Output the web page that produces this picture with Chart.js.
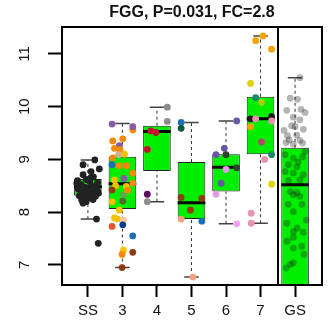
<!DOCTYPE html>
<html>
<head>
<meta charset="utf-8">
<script src="https://cdn.jsdelivr.net/npm/chart.js@4.4.1/dist/chart.umd.min.js"></script>
<style>
  html, body { margin: 0; padding: 0; background: #fff; }
  #wrap { width: 331px; height: 325px; }
</style>
</head>
<body>
<div id="wrap"><canvas id="chart" width="331" height="325"></canvas></div>
<script>
// ── Data ──
const groups = ['SS', '3', '4', '5', '6', '7', 'GS'];
const yTicks = [7, 8, 9, 10, 11];
const panelSplit = 6.51; // divider between the stage groups and GS

// box stats per group
const whiskLo = [7.87, 6.95, 8.20, 6.77, 7.78, 7.79, 4.60];
const q1      = [8.31, 8.06, 8.78, 7.87, 8.39, 9.10, 6.35];
const median  = [8.48, 8.54, 9.53, 8.18, 8.85, 9.77, 8.52];
const q3      = [8.63, 9.05, 9.64, 8.95, 9.10, 10.19, 9.22];
const whiskHi = [8.99, 9.68, 9.99, 9.70, 9.73, 11.34, 10.55];

// jittered samples: values + horizontal jitter (in group units)
const ssVals = [8.90, 8.99, 8.77, 8.82, 8.71, 8.67, 8.62, 8.60, 8.58, 8.56, 8.52, 8.50, 8.47, 8.45, 8.44,
  8.42, 8.40, 8.38, 8.36, 8.35, 8.33, 8.31, 8.30, 8.28, 8.27, 8.23, 8.20, 8.17, 8.24, 8.48, 8.55, 8.65, 8.40, 7.87, 7.41];
const ssJit = [-0.14, 0.20, 0.09, 0.33, -0.14, 0.16, -0.05, -0.30, 0.05, 0.28, -0.20, 0.12, -0.08, 0.25, -0.28,
  0.00, 0.18, -0.17, 0.30, -0.02, 0.10, -0.25, 0.22, -0.12, 0.05, -0.18, -0.05, -0.14, 0.15, 0.24, -0.32, 0.08, 0.28, 0.25, 0.30];

const g3Vals = [9.67, 9.56, 9.62, 9.39, 9.35, 9.26, 9.21, 9.18, 9.09, 9.10, 9.03, 8.90, 8.88, 8.88, 8.64, 8.74, 8.61, 8.55,
  8.49, 8.50, 8.42, 8.20, 8.21, 8.33, 8.42, 8.04, 7.89, 7.87, 7.85, 7.73, 7.76, 7.55, 7.28, 7.20, 7.24, 6.95];
const g3Jit = [-0.30, 0.30, 0.30, 0.01, -0.28, -0.09, -0.23, -0.07, -0.11, 0.06, -0.28, -0.30, -0.09, 0.12, 0.04, 0.30, -0.23, 0.30,
  0.11, -0.20, -0.30, -0.30, 0.01, 0.03, 0.15, -0.09, -0.23, -0.14, 0.03, -0.30, 0.01, 0.30, 0.03, -0.01, 0.30, -0.01];

const g4Vals = [9.99, 9.72, 9.54, 9.51, 9.19, 8.34, 8.20];
const g4Jit  = [0.30, 0.30, -0.18, -0.03, -0.28, -0.28, -0.28];

const g5Vals = [9.70, 9.59, 8.28, 8.26, 8.04, 7.87, 7.83, 6.77];
const g5Jit  = [-0.30, -0.30, -0.30, 0.30, -0.03, -0.30, 0.30, 0.04];

const g6Vals = [9.73, 9.21, 9.09, 9.09, 8.84, 8.81, 8.55, 8.34, 7.78];
const g6Jit  = [0.31, -0.05, -0.29, 0.00, 0.31, 0.00, -0.14, -0.29, 0.31];

const g7Vals = [11.34, 11.25, 11.09, 10.44, 10.17, 10.08, 9.77, 9.77, 9.81, 9.73, 9.62, 9.33, 9.09, 9.00, 8.53, 7.98, 7.79];
const g7Jit  = [0.07, -0.14, 0.32, -0.29, -0.14, 0.03, -0.29, -0.14, 0.32, 0.32, -0.29, 0.03, 0.32, 0.12, 0.32, -0.27, -0.27];

const gsVals = [10.55, 10.16, 10.14, 9.93, 9.95, 9.89, 9.80, 9.75, 9.64, 9.57, 9.62, 9.45, 9.46, 9.37, 9.36, 9.32, 9.29, 9.31,
  9.09, 9.02, 9.05, 8.90, 8.86, 8.77, 8.74, 8.71, 8.60, 8.61, 8.39, 8.37, 8.33, 8.30, 8.01, 7.79, 7.63, 7.62, 7.52, 7.32,
  7.35, 7.01, 6.94, 7.04, 9.15, 8.95, 9.55, 7.85, 8.15, 8.15, 7.70, 7.20, 7.45];
const gsJit = [0.14, -0.14, 0.07, -0.24, 0.17, 0.29, -0.05, 0.14, -0.10, 0.24, 0.00, -0.22, 0.05, -0.17, 0.14, -0.26, -0.05, 0.22,
  -0.29, -0.05, 0.22, -0.19, 0.05, -0.29, -0.05, 0.24, -0.19, 0.14, -0.14, 0.05, -0.05, 0.14, -0.05, -0.24, -0.05, 0.24, -0.05, -0.05,
  0.19, -0.14, -0.26, -0.05, 0.29, 0.09, -0.32, 0.32, 0.20, -0.20, 0.06, 0.26, -0.23];

// ── Colours ──
const C = {
  orange: '#F58A07', gold: '#F2C200', purple: '#8B5AA5', blue: '#1F6FB5', tan: '#C9B38B', brown: '#8E3B10',
  olive: '#4F6B2A', lgreen: '#5FA84A', peach: '#F6C7A3', ored: '#E0562A', navy: '#0C3E8E',
  gray: '#8C8C8C', crimson: '#C3122F', dpurple: '#5A0B5E', dgreen: '#0C5B39', salmon: '#F6A07E',
  slate: '#6957A6', dkgreen: '#2F432F', orchid: '#E49BE6', violet: '#F0A2F2',
  amber: '#F5A300', yellow: '#DDD300', teal: '#188A68', ygreen: '#A6CF12', black: '#1A1A1A', pink: '#E892AE', rose: '#B04B6B'
};
const g3Cols = [C.purple, C.orange, C.purple, C.orange, C.orange, C.purple, C.orange, C.orange, C.tan, C.gold, C.orange, C.blue,
  C.orange, C.orange, C.purple, C.orange, C.gold, C.orange, C.gold, C.gold, C.brown, C.gold, C.olive, C.lgreen, C.orange,
  C.gold, C.gold, C.gold, C.peach, C.ored, C.navy, C.blue, C.gold, C.orange, C.brown, C.brown];
const g4Cols = [C.gray, C.gray, C.crimson, C.crimson, C.crimson, C.dpurple, C.gray];
const g5Cols = [C.blue, C.dgreen, C.brown, C.brown, C.brown, C.salmon, C.blue, C.salmon];
const g6Cols = [C.slate, C.slate, C.slate, C.dkgreen, C.dkgreen, C.orchid, C.slate, C.orchid, C.violet];
const g7Cols = [C.amber, C.amber, C.amber, C.yellow, C.teal, C.ygreen, C.black, C.pink, C.black, C.pink, C.amber, C.rose,
  C.teal, C.pink, C.yellow, C.pink, C.pink];

const BOX_FILL = '#00EE00';
const FONT = '"Liberation Sans", Arial, sans-serif';

// ── Helpers ──
const pts = (g, vals, jit) => vals.map((v, i) => ({ x: g + jit[i], y: v }));

function segments(fn) {
  const out = [];
  groups.forEach((_, i) => { out.push(...fn(i + 1, i)); out.push({ x: i + 1, y: null }); });
  return out;
}

function pointSet(data, colors, order) {
  return {
    type: 'scatter', data, order,
    backgroundColor: colors, borderWidth: 0,
    pointRadius: 3.4, pointHoverRadius: 3.4
  };
}

// ── Plugins: frame, panel divider, y labels ──
const framePlugin = {
  id: 'frame',
  afterDraw(chart) {
    const { ctx, chartArea: a, scales } = chart;
    ctx.save();
    ctx.strokeStyle = '#000';
    ctx.lineWidth = 2;
    ctx.strokeRect(a.left, a.top, a.right - a.left, a.bottom - a.top);
    const sx = Math.round(scales.x.getPixelForValue(panelSplit));
    ctx.beginPath();
    ctx.moveTo(sx, a.top);
    ctx.lineTo(sx, a.bottom);
    ctx.stroke();

    // rotated y tick labels (R style)
    ctx.fillStyle = '#111';
    ctx.font = '15px ' + FONT;
    ctx.textAlign = 'center';
    ctx.textBaseline = 'middle';
    yTicks.forEach(t => {
      const y = scales.y.getPixelForValue(t);
      ctx.save();
      ctx.translate(25, y);
      ctx.rotate(-Math.PI / 2);
      ctx.fillText(String(t), 0, 0);
      ctx.restore();
    });
    ctx.restore();
  }
};

// ── Chart ──
new Chart(document.getElementById('chart'), {
  type: 'scatter',
  data: {
    datasets: [
      {
        type: 'line', order: 6, // dashed whiskers
        data: segments((g, i) => [{ x: g, y: whiskLo[i] }, { x: g, y: q1[i] }, { x: g, y: null }, { x: g, y: q3[i] }, { x: g, y: whiskHi[i] }]),
        borderColor: '#333', borderWidth: 1, borderDash: [3, 3], pointRadius: 0, spanGaps: false
      },
      {
        type: 'line', order: 6, // whisker caps
        data: segments((g, i) => [{ x: g - 0.21, y: whiskLo[i] }, { x: g + 0.21, y: whiskLo[i] }, { x: g, y: null },
                                  { x: g - 0.21, y: whiskHi[i] }, { x: g + 0.21, y: whiskHi[i] }]),
        borderColor: '#444', borderWidth: 1.5, pointRadius: 0, spanGaps: false
      },
      {
        type: 'bar', order: 5,
        data: groups.map((_, i) => ({ x: i + 1, y: [q1[i], q3[i]] })),
        backgroundColor: BOX_FILL, borderColor: '#222', borderWidth: 1, borderSkipped: false,
        barPercentage: 0.8, categoryPercentage: 1.0
      },
      {
        type: 'line', order: 4, // medians
        data: segments((g, i) => [{ x: g - 0.4, y: median[i] }, { x: g + 0.4, y: median[i] }]),
        borderColor: '#000', borderWidth: 3, pointRadius: 0, spanGaps: false
      },
      pointSet(pts(1, ssVals, ssJit), '#222', 2),
      pointSet(pts(2, g3Vals, g3Jit), g3Cols, 2),
      pointSet(pts(3, g4Vals, g4Jit), g4Cols, 2),
      pointSet(pts(4, g5Vals, g5Jit), g5Cols, 2),
      pointSet(pts(5, g6Vals, g6Jit), g6Cols, 2),
      pointSet(pts(6, g7Vals, g7Jit), g7Cols, 2),
      pointSet(pts(7, gsVals, gsJit), 'rgba(30,30,30,0.33)', 1)
    ]
  },
  options: {
    responsive: false,
    animation: false,
    events: [],
    layout: { padding: { left: 0, right: 9, top: 0, bottom: 0 } },
    plugins: {
      legend: { display: false },
      tooltip: { enabled: false },
      title: {
        display: true,
        text: 'FGG, P=0.031, FC=2.8',
        fullSize: false,
        color: '#111',
        font: { family: FONT, size: 16, weight: 'bold' },
        padding: { top: 2.5, bottom: 5.3 }
      }
    },
    scales: {
      x: {
        type: 'linear', min: 0.25, max: 7.78, offset: false,
        border: { display: false },
        grid: { offset: false, drawOnChartArea: false, drawTicks: true, tickLength: 12, tickWidth: 2, tickColor: '#000' },
        afterBuildTicks: s => { s.ticks = groups.map((_, i) => ({ value: i + 1 })); },
        afterFit: s => { s.height = 40; },
        ticks: {
          autoSkip: false, maxRotation: 0, padding: 5, color: '#111',
          font: { family: FONT, size: 15 },
          callback: (v, i) => groups[i]
        }
      },
      y: {
        type: 'linear', min: 6.62, max: 11.51, beginAtZero: false,
        border: { display: false },
        grid: { drawOnChartArea: false, drawTicks: true, tickLength: 14, tickWidth: 2, tickColor: '#000' },
        afterBuildTicks: s => { s.ticks = yTicks.map(v => ({ value: v })); },
        afterFit: s => { s.width = 62; },
        ticks: { display: false }
      }
    }
  },
  plugins: [framePlugin]
});
</script>
</body>
</html>
